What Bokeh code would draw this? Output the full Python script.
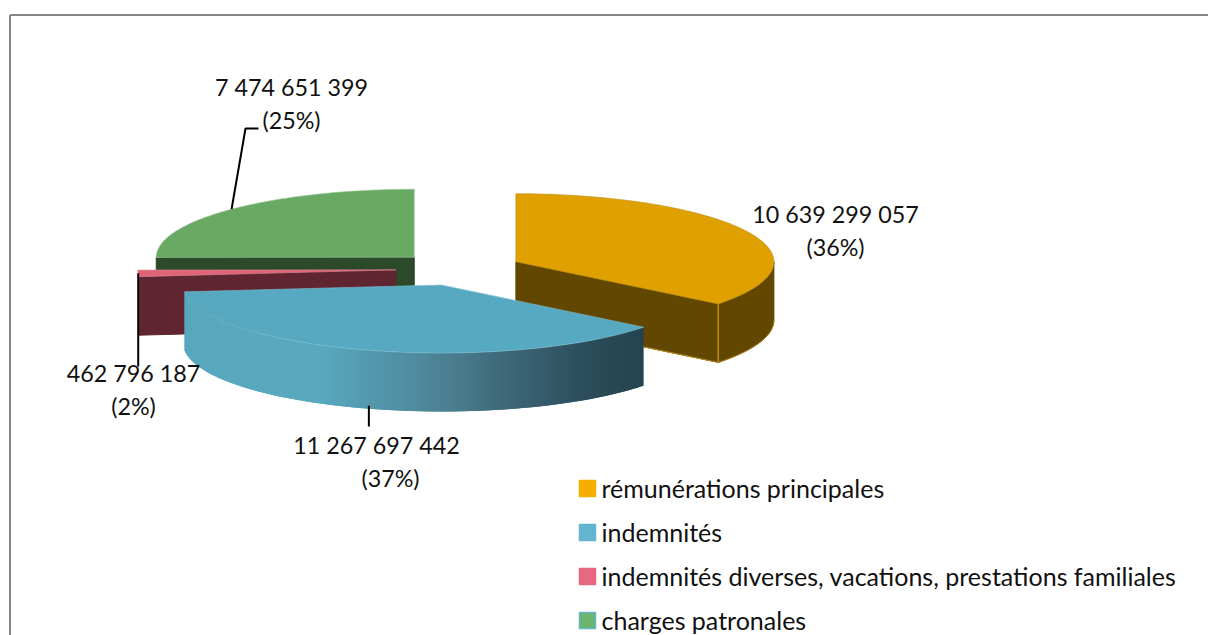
import math
from bokeh.plotting import figure
from bokeh.models import Range1d
from bokeh.core.properties import value
from bokeh.embed import file_html
from bokeh.resources import INLINE

# ---- data ----
categories = ["rémunérations principales", "indemnités",
              "indemnités diverses, vacations, prestations familiales", "charges patronales"]
values = [10639299057, 11267697442, 462796187, 7474651399]
value_labels = ["10 639 299 057", "11 267 697 442", "462 796 187", "7 474 651 399"]
percent_labels = ["(36%)", "(37%)", "(2%)", "(25%)"]

top_colors = ["#E0A000", "#57A9C1", "#DF6478", "#68A963"]
side_colors = ["#624700", "#234552", "#5F2530", "#2C4A2A"]
edge_colors = ["#B98C14", "#7FBFD2", "#E58A99", "#9CC79A"]
legend_colors = ["#F4AF00", "#63B4CF", "#E8697F", "#6BB56C"]
legend_borders = ["#F4AF00", "#63B4CF", "#E8697F", "#63B4CF"]

# ---- projection of the 3D pie ----
CX, CY, A, B, DEPTH, EXPLODE = 458.5, 268.5, 258, 68, 58.5, 0.245
FONT = "Lato"
FS_LABEL = "23.3px"
FS_LEGEND = "25px"

p = figure(width=1208, height=635, output_backend="svg", toolbar_location=None,
           x_range=Range1d(0, 1208), y_range=Range1d(635, 0), min_border=0,
           outline_line_color=None, background_fill_color="white", border_fill_color="white")
p.axis.visible = False
p.grid.visible = False

# chart frame (top and left only)
p.line([9.5, 9.5], [635, 14.5], line_color="#868686", line_width=2)
p.line([9.5, 1208], [14.5, 14.5], line_color="#868686", line_width=2)

total = sum(values)
starts, ends = [], []
acc = 0.0
for v in values:
    starts.append(acc / total * 2 * math.pi)
    acc += v
    ends.append(acc / total * 2 * math.pi)


def apex(i):
    m = (starts[i] + ends[i]) / 2
    return CX + EXPLODE * A * math.sin(m), CY - EXPLODE * B * math.cos(m)


def rim(i, t):
    ax, ay = apex(i)
    return ax + A * math.sin(t), ay - B * math.cos(t)


def arc(i, t0, t1, n=120):
    return [rim(i, t0 + (t1 - t0) * k / n) for k in range(n + 1)]


def teal_shade(x):
    stops = [(320, (0x58, 0xA8, 0xBE)), (400, (0x51, 0x8F, 0xA3)), (450, (0x4A, 0x7F, 0x90)),
             (500, (0x3E, 0x6A, 0x79)), (550, (0x34, 0x58, 0x68)), (600, (0x29, 0x4A, 0x56)),
             (645, (0x24, 0x44, 0x50))]
    if x <= stops[0][0]:
        c = stops[0][1]
    else:
        c = stops[-1][1]
        for (x0, c0), (x1, c1) in zip(stops, stops[1:]):
            if x0 <= x <= x1:
                f = (x - x0) / (x1 - x0)
                c = tuple(c0[j] + (c1[j] - c0[j]) * f for j in range(3))
                break
    return "#%02X%02X%02X" % tuple(int(round(q)) for q in c)


def draw_cut(i, t):
    ax, ay = apex(i)
    rx, ry = rim(i, t)
    p.patch([ax, rx, rx, ax], [ay, ry, ry + DEPTH, ay + DEPTH], fill_color=side_colors[i],
            line_color=side_colors[i], line_width=1)


def draw_top(i):
    ax, ay = apex(i)
    pts = arc(i, starts[i], ends[i])
    p.patch([ax] + [q[0] for q in pts], [ay] + [q[1] for q in pts],
            fill_color=top_colors[i], line_color=edge_colors[i], line_width=1, line_alpha=0.6)


def draw_side(i, t0, t1):
    pts = arc(i, t0, t1)
    xs = [q[0] for q in pts] + [q[0] for q in reversed(pts)]
    ys = [q[1] for q in pts] + [q[1] + DEPTH for q in reversed(pts)]
    p.patch(xs, ys, fill_color=side_colors[i], line_color=side_colors[i], line_width=1)


# back to front: green, red, orange, blue
# charges patronales
draw_cut(3, starts[3])
draw_top(3)

# indemnités diverses
draw_cut(2, starts[2])
draw_top(2)

# rémunérations principales
draw_side(0, math.pi / 2, ends[0])
draw_cut(0, ends[0])
draw_top(0)
ex, ey = rim(0, ends[0])
p.line([ex, ex], [ey, ey + DEPTH], line_color=edge_colors[0], line_width=1.5)
bot = arc(0, math.pi / 2, ends[0])
p.line([q[0] for q in bot], [q[1] + DEPTH for q in bot], line_color=edge_colors[0], line_width=1)
ax0, ay0 = apex(0)
p.line([ax0, ex], [ay0 + DEPTH, ey + DEPTH], line_color=edge_colors[0], line_width=1)

# indemnités: curved side with horizontal shading (overlapping bands, no seams)
N = 120
for k in range(N):
    t0 = starts[1] + (ends[1] - starts[1]) * k / N
    t1 = starts[1] + (ends[1] - starts[1]) * min(k + 2, N) / N
    tm = starts[1] + (ends[1] - starts[1]) * (k + 0.5) / N
    x0, y0 = rim(1, t0)
    x1, y1 = rim(1, t1)
    col = teal_shade(rim(1, tm)[0])
    p.patch([x0, x1, x1, x0], [y0, y1, y1 + DEPTH, y0 + DEPTH], fill_color=col, line_color=None)
draw_top(1)

# leader lines
gx, gy = rim(3, (starts[3] + ends[3]) / 2)
p.line([gx, 245, 258], [gy, 128, 128], line_color="black", line_width=2)
rx_, ry_ = rim(2, (starts[2] + ends[2]) / 2)
p.line([rx_, rx_], [ry_, 366], line_color="black", line_width=2)
tx, ty = rim(1, (starts[1] + ends[1]) / 2)
p.line([tx, tx], [ty + DEPTH - 3, 426], line_color="black", line_width=2)

# data labels
label_x = [835, 376, 133, 291]
percent_x = [835, 390, 133, 291]
label_y = [213, 444, 372, 86]
for i in range(4):
    p.text([label_x[i]], [label_y[i]], text=[value_labels[i]], text_align="center", text_baseline="middle",
           text_font=value(FONT), text_font_size=FS_LABEL, text_color="#111111")
    p.text([percent_x[i]], [label_y[i] + 33], text=[percent_labels[i]], text_align="center", text_baseline="middle",
           text_font=value(FONT), text_font_size=FS_LABEL, text_color="#111111")

# legend
legend_y = [488, 532, 576, 620]
for i in range(4):
    p.rect([587], [legend_y[i]], width=16, height=16, fill_color=legend_colors[i],
           line_color=legend_borders[i], line_width=1.5)
    p.text([601], [legend_y[i] - 1], text=[categories[i]], text_align="left", text_baseline="middle",
           text_font=value(FONT), text_font_size=FS_LEGEND, text_color="#111111")

open("out.html", "w").write(file_html(p, INLINE))
